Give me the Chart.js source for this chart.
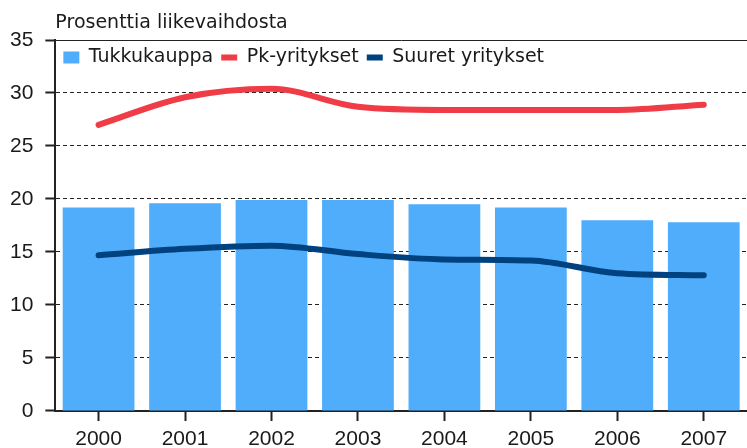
<!DOCTYPE html>
<html>
<head>
<meta charset="utf-8">
<script src="https://cdn.jsdelivr.net/npm/chart.js@4.4.1/dist/chart.umd.min.js"></script>
<style>
  html, body { margin: 0; padding: 0; background: #fff; }
  #wrap { width: 747px; height: 448px; position: relative; }
</style>
</head>
<body>
<div id="wrap"><canvas id="chart"></canvas></div>
<script>
const years = ["2000", "2001", "2002", "2003", "2004", "2005", "2006", "2007"];
const tukkukauppa = [19.2, 19.6, 19.9, 19.9, 19.5, 19.2, 18.0, 17.8];
const pkYritykset = [27.0, 29.6, 30.4, 28.7, 28.4, 28.4, 28.4, 28.9];
const suuretYritykset = [14.7, 15.3, 15.6, 14.8, 14.3, 14.2, 13.0, 12.8];
const yMin = 0;
const yMax = 35;
const yStep = 5;
const unitLabel = "Prosenttia liikevaihdosta";

const textColor = "#1a1a1a";
const labelFont = "DejaVu Sans";
const tickFont = "Liberation Sans";

// draws the unit text above the plot, starting at the y axis
const unitTitle = {
  id: "unitTitle",
  afterDraw(chart) {
    const ctx = chart.ctx;
    ctx.save();
    ctx.font = `19px '${labelFont}'`;
    ctx.fillStyle = textColor;
    ctx.textBaseline = "alphabetic";
    ctx.fillText(unitLabel, chart.chartArea.left, 28);
    ctx.restore();
  }
};

// the legend sits inside the plot, just under its top line
const legendInside = {
  id: "legendInside",
  afterLayout(chart) {
    const lg = chart.legend;
    if (!lg) return;
    const dy = chart.chartArea.top - lg.top;
    lg.top += dy;
    lg.bottom += dy;
    lg.left = chart.chartArea.left;
    lg.right = chart.chartArea.right;
  }
};

new Chart(document.getElementById("chart"), {
  data: {
    labels: years,
    datasets: [
      {
        type: "bar",
        label: "Tukkukauppa",
        data: tukkukauppa,
        backgroundColor: "#4fadfc",
        borderWidth: 0,
        barPercentage: 0.83,
        categoryPercentage: 1,
        pointStyle: "rect",
        order: 3
      },
      {
        type: "line",
        label: "Pk-yritykset",
        data: pkYritykset,
        borderColor: "#ef3c46",
        backgroundColor: "#ef3c46",
        borderWidth: 6,
        pointRadius: 0,
        pointStyle: "line",
        borderCapStyle: "round",
        borderJoinStyle: "round",
        cubicInterpolationMode: "monotone",
        fill: false,
        order: 1
      },
      {
        type: "line",
        label: "Suuret yritykset",
        data: suuretYritykset,
        borderColor: "#00427f",
        backgroundColor: "#00427f",
        borderWidth: 6,
        pointRadius: 0,
        pointStyle: "line",
        borderCapStyle: "round",
        borderJoinStyle: "round",
        cubicInterpolationMode: "monotone",
        fill: false,
        order: 2
      }
    ]
  },
  options: {
    responsive: true,
    maintainAspectRatio: false,
    animation: false,
    layout: {padding: {left: -2, top: 3, right: 0, bottom: -10}},
    plugins: {
      tooltip: {enabled: false},
      legend: {
        position: "top",
        align: "start",
        labels: {
          usePointStyle: true,
          pointStyleWidth: 16,
          boxHeight: 12,
          padding: 8,
          color: textColor,
          font: {family: labelFont, size: 19},
          sort: (a, b) => a.datasetIndex - b.datasetIndex
        }
      }
    },
    scales: {
      x: {
        offset: true,
        grid: {drawOnChartArea: false, offset: false, tickLength: 10, tickColor: "#222", tickWidth: 2},
        border: {color: "#222", width: 2},
        ticks: {color: textColor, padding: 10, maxRotation: 0, font: {family: tickFont, size: 21, lineHeight: 0.81}}
      },
      y: {
        min: yMin,
        max: yMax,
        ticks: {stepSize: yStep, color: textColor, padding: 12, font: {family: tickFont, size: 21}},
        grid: {color: "#222", lineWidth: 1, tickLength: 10, tickColor: "#222", tickWidth: 2},
        border: {
          color: "#222",
          width: 2,
          dash: ctx => (ctx.tick && ctx.tick.value === yMax) ? [] : [4, 3]
        }
      }
    }
  },
  plugins: [unitTitle, legendInside]
});
</script>
</body>
</html>
